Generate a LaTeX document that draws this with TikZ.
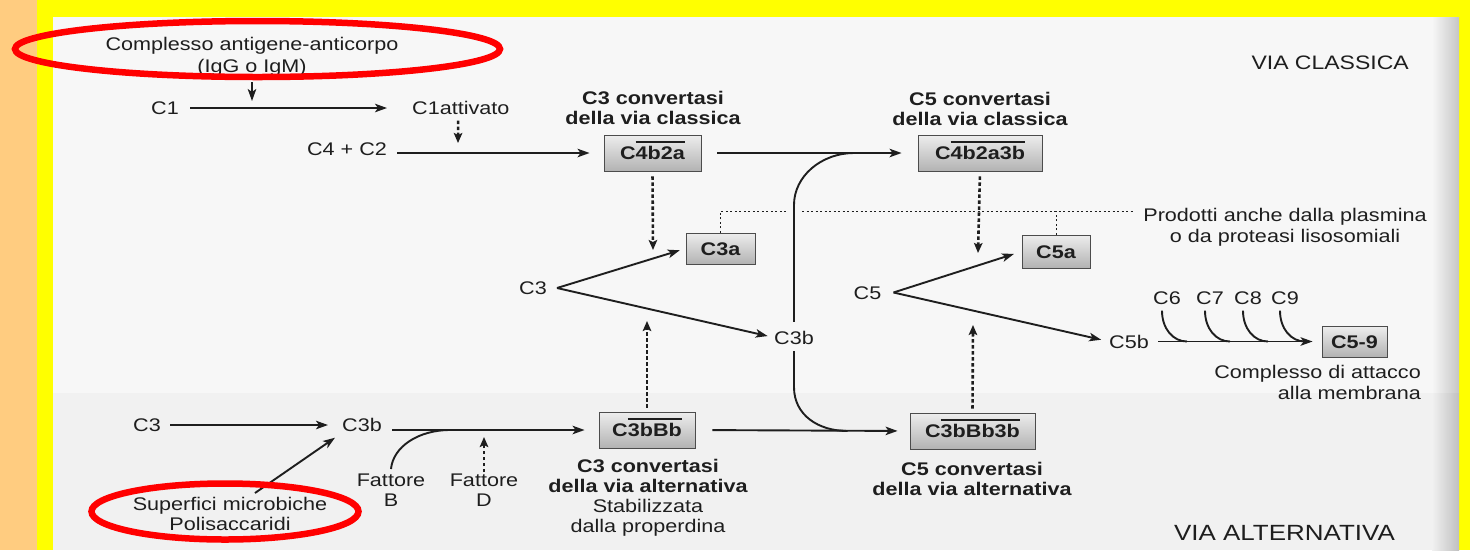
\documentclass[tikz,border=0pt]{standalone}
\usepackage{fontspec}
\setmainfont{Liberation Sans}[FakeStretch=1.18]
\usetikzlibrary{arrows.meta,calc}
\definecolor{ink}{HTML}{1E1E1E}
\definecolor{peach}{HTML}{FFCC80}
\definecolor{frame}{HTML}{FFFF00}
\definecolor{paper}{HTML}{F7F7F7}
\definecolor{paperlow}{HTML}{F1F1F1}
\newcommand\fs{\fontsize{18.3}{20}\selectfont}
% bar over the enzyme part of a convertase name
\newcommand\ovl[1]{\vbox{\hrule height 1.5pt\kern 3.5pt\hbox{#1}}}
\tikzset{
  lbl/.style={font=\fs, text=ink, inner sep=0pt, text height=13pt, text depth=0pt},
  txt/.style={font=\fs, text=ink, inner sep=0pt, align=center},
  btxt/.style={font=\bfseries\fs, text=ink, inner sep=0pt, align=center},
  head/.style={text=ink, inner sep=0pt},
  enzbox/.style={draw=gray!60!black, line width=0.9pt, top color=gray!14, bottom color=gray!60,
    font=\bfseries\fs, text=ink, inner sep=0pt, text height=13pt, text depth=0pt},
  arr/.style={draw=ink, line width=1.9pt, -{Stealth[length=12pt,width=8.5pt,inset=3pt]}},
  link/.style={draw=ink, line width=1.9pt},
  dotarr/.style={draw=ink, line width=2.6pt, dash pattern=on 3.5pt off 2.5pt,
    -{Stealth[length=10pt,width=8.5pt,inset=2pt]}},
  fine/.style={draw=ink, line width=1pt, dash pattern=on 2pt off 2.5pt},
  ring/.style={draw=red, line width=6.5pt}
}
\begin{document}
\begin{tikzpicture}[x=1pt,y=-1pt]
\useasboundingbox (0,0) rectangle (1470,550);
% page and frame
\fill[peach] (0,0) rectangle (37,550);
\fill[frame] (37,0) rectangle (1470,550);
\fill[paper] (53,17) rectangle (1459,550);
\fill[paperlow] (53,393) rectangle (1459,550);
\shade[left color=paper, right color=gray!45] (1432,17) rectangle (1459,393);
\shade[left color=paperlow, right color=gray!50] (1432,393) rectangle (1459,550);

% ---------- classical pathway ----------
\node[txt, anchor=north, font=\fontsize{18.3}{22}\selectfont] (ag) at (252,37) {Complesso antigene-anticorpo\\(IgG o IgM)};
\node[lbl] (C1) at (165,108) {C1};
\node[lbl, anchor=west] (C1att) at (412,108) {C1attivato};
\coordinate (c1in) at (252,101);
\draw[arr] ([yshift=-6pt]ag.south) -- (c1in);
\draw[arr, shorten <=11pt, shorten >=25pt] (C1) -- (C1att);

\node[lbl] (C4C2) at (347,149) {C4 + C2};
\coordinate (c1down) at (458,143);
\draw[dotarr, shorten <=6pt] ([xshift=-2.6pt]C1att.south) -- (c1down);

\node[btxt, anchor=north] (cv1) at (653,91) {C3 convertasi\\della via classica};
\node[enzbox, minimum width=97pt, minimum height=36pt] (C4b2a) at (652.5,153) {C\ovl{4b2a}};
\draw[arr, shorten <=10pt, shorten >=14pt] (C4C2.east |- C4b2a.west) -- (C4b2a.west);

\node[btxt, anchor=north] (cv2) at (980,92) {C5 convertasi\\della via classica};
\node[enzbox, minimum width=124pt, minimum height=36pt] (C4b2a3b) at (980,153) {C\ovl{4b2a3b}};
\draw[arr, shorten <=16pt, shorten >=16pt] (C4b2a.east) -- (C4b2a3b.west);

% ---------- C3 cleavage ----------
\node[enzbox, minimum width=69pt, minimum height=31pt] (C3a) at (720.5,248.5) {C3a};
\node[lbl] (C3m) at (533,288) {C3};
\node[lbl] (C3bm) at (794,337.5) {C3b};
\coordinate (c3apex) at ([xshift=10pt]C3m.east);
\draw[arr, shorten >=6pt] (c3apex) -- (C3a.west);
\draw[arr, shorten >=6.5pt] (c3apex) -- (C3bm.west);
\coordinate (c3dn) at (653,250);
\draw[dotarr, shorten <=5pt] (C4b2a.south) -- (c3dn);

% ---------- C5 cleavage ----------
\node[enzbox, minimum width=68pt, minimum height=33pt] (C5a) at (1056,251.5) {C5a};
\node[lbl] (C5) at (867.5,292.5) {C5};
\node[lbl] (C5b) at (1129,341.5) {C5b};
\coordinate (c5apex) at ([xshift=12pt]C5.east);
\draw[arr, shorten >=8pt] (c5apex) -- (C5a.west);
\draw[arr, shorten >=8pt] (c5apex) -- (C5b.west);
\coordinate (c5dn) at (978,253);
\draw[dotarr, shorten <=5pt] (C4b2a3b.south) -- (c5dn);

% plasmin note and its dotted leaders
\node[txt, anchor=north, font=\fontsize{18.3}{21}\selectfont] (prod) at (1285,208) {Prodotti anche dalla plasmina\\o da proteasi lisosomiali};
\coordinate (dotrow) at (1000,211);
\draw[fine] (C3a.north) |- ([xshift=-7pt]C3bm.north |- dotrow);
\draw[fine] ([xshift=8pt]C3bm.north |- dotrow) -- ([xshift=-10pt]prod.west |- dotrow);
\draw[fine] (C5a.north) -- (C5a.north |- dotrow);

% C3b joins both C5 convertases
\coordinate (jtop) at ($(C4b2a3b.west)+(-63,0)$);
\draw[link, shorten <=9pt] (C3bm.north) -- ++(0,-126) .. controls +(0,-28) and +(-34,0) .. (jtop);

% ---------- membrane attack complex ----------
\node[enzbox, minimum width=65pt, minimum height=31pt] (C59) at (1354.5,341.5) {C5-9};
\draw[arr, shorten <=9pt, shorten >=9pt] (C5b.east) -- (C59.west);
\node[lbl] (C6) at (1167,298) {C6};
\node[lbl] (C7) at (1210,298) {C7};
\node[lbl] (C8) at (1248,298) {C8};
\node[lbl] (C9) at (1285,298) {C9};
\foreach \n in {C6,C7,C8,C9}
  \draw[link] ([xshift=-5pt,yshift=-6pt]\n.south) .. controls +(0,18) and +(-14,0) .. ([xshift=20pt]\n.south |- C59.west);
\node[txt, align=right, anchor=north east, font=\fontsize{18.3}{21}\selectfont] (mac) at (1421,365) {Complesso di attacco\\alla membrana};

% ---------- alternative pathway ----------
\node[lbl] (C3L) at (147,425) {C3};
\node[lbl] (C3bL) at (362,425) {C3b};
\draw[arr, shorten <=9pt, shorten >=14pt] (C3L.east) -- (C3bL.west);
\node[txt, anchor=north] (sup) at (230,497) {Superfici microbiche\\Polisaccaridi};
\draw[arr] ([xshift=25pt,yshift=4pt]sup.north) -- ([xshift=-7pt,yshift=-6pt]C3bL.south west);

\node[enzbox, minimum width=96pt, minimum height=36pt] (C3bBb) at (647,430) {C\ovl{3bBb}};
\draw[arr, shorten <=10pt, shorten >=14pt] (C3bL.east |- C3bBb.west) -- (C3bBb.west);
\node[txt, anchor=north] (FB) at (391,474) {Fattore\\B};
\node[txt, anchor=north] (FD) at (484,474) {Fattore\\D};
\draw[link] ([yshift=5pt]FB.north) .. controls +(2,-22) and +(-32,0) .. ([xshift=59pt]FB.north |- C3bBb.west);
\draw[dotarr, shorten <=2pt, shorten >=7pt] (FD.north) -- (FD.north |- C3bBb.west);
\node[txt, anchor=north] (cv3) at (648,459) {\textbf{C3 convertasi}\\\textbf{della via alternativa}\\Stabilizzata\\dalla properdina};
\coordinate (c3up) at (647,321);
\draw[dotarr, shorten <=4pt] (C3bBb.north) -- (c3up);

\node[enzbox, minimum width=125pt, minimum height=36pt] (C3bBb3b) at (972.5,431) {C\ovl{3bBb3b}};
\draw[arr, shorten <=17pt, shorten >=12pt] (C3bBb.east) -- (C3bBb3b.west);
\node[btxt, anchor=north] (cv4) at (972,462) {C5 convertasi\\della via alternativa};
\coordinate (c5up) at (973,325);
\draw[dotarr, shorten <=4pt] (C3bBb3b.north) -- (c5up);

\coordinate (jbot) at ($(C3bBb3b.west)+(-62,0)$);
\draw[link, shorten <=7pt] (C3bm.south) -- ++(0,43) .. controls +(0,28) and +(-29,0) .. (jbot);

% pathway titles
\node[head, font=\fontsize{19.5}{24}\selectfont, anchor=base east] (vc) at (1409,69.5) {VIA CLASSICA};
\node[head, font=\fontsize{22}{26}\selectfont, anchor=base east] (va) at (1395,540) {VIA ALTERNATIVA};

% red highlight rings
\draw[ring] (257.5,49) ellipse [x radius=242.5, y radius=28];
\draw[ring] (225,511.5) ellipse [x radius=133.5, y radius=28];
\end{tikzpicture}
\end{document}
